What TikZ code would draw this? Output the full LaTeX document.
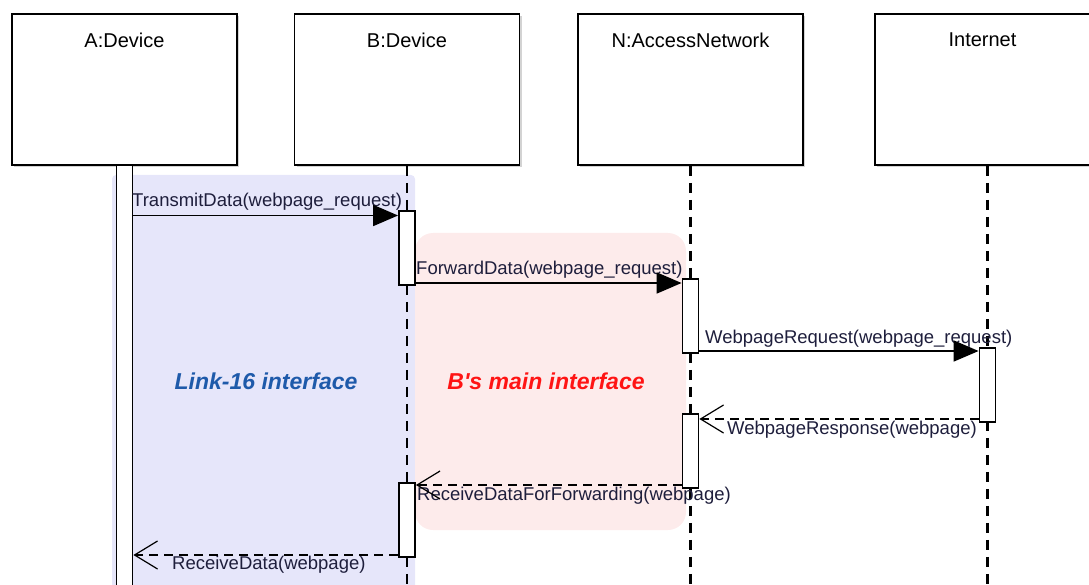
\documentclass[tikz,border=0pt]{standalone}
\usepackage{fontspec}
\setmainfont{Liberation Sans}
\newfontfamily\regfont[Ligatures=TeXOff]{Liberation Sans}
\usetikzlibrary{arrows.meta,calc,shadows}
\definecolor{lav}{RGB}{230,230,250}
\definecolor{pinkbg}{RGB}{253,235,235}
\definecolor{linkblue}{RGB}{30,90,170}
\definecolor{bred}{RGB}{255,20,20}
\definecolor{msgtxt}{RGB}{30,30,60}
\begin{document}
\begin{tikzpicture}[x=1pt,y=-1pt,
  lifebox/.style={draw, line width=1.8pt, fill=white, minimum width=225pt, minimum height=151pt, inner sep=0pt,
    drop shadow={shadow xshift=2pt, shadow yshift=-2pt, opacity=0.35, fill=gray}},
  title/.style={font=\fontsize{20}{22}\selectfont, text=black, inner sep=0pt},
  bar/.style={draw, line width=1.8pt, fill=white, minimum width=16pt, inner sep=0pt},
  life/.style={line width=2.2pt, dash pattern=on 10pt off 7pt},
  call/.style={line width=1.6pt, -{Triangle[length=25pt,width=21pt]}},
  reply/.style={line width=1.6pt, dash pattern=on 9pt off 6pt, -{Straight Barb[length=23pt,width=28pt,line width=1.2pt]}},
  lbl/.style={font=\fontsize{18.5}{20}\selectfont, text=msgtxt, inner sep=0pt, anchor=west},
  region/.style={font=\regfont\bfseries\itshape\fontsize{23}{26}\selectfont, inner sep=0pt}
]
\useasboundingbox (0,0) rectangle (1089,585);
\clip (0,0) rectangle (1089,585);

% background regions
\fill[lav, rounded corners=4pt] (112,175) rectangle (415,600);
\fill[pinkbg, rounded corners=18pt] (415,233) rectangle (686,530);

% lifeline heads
\node[lifebox] (A) at (124.5,89.5) {};
\node[lifebox] (B) at (407,89.5) {};
\node[lifebox] (N) at (690.5,89.5) {};
\node[lifebox] (I) at (987.5,89.5) {};
\node[title] (At) at (124.5,40) {A:Device};
\node[title] (Bt) at (407,40) {B:Device};
\node[title] (Nt) at (690.5,40) {N:AccessNetwork};
\node[title] (It) at (982.5,40) {Internet};

% lifelines
\coordinate (Bend) at (407,590);
\coordinate (Nend) at (690.5,590);
\coordinate (Iend) at (987.5,590);
\draw[life] (B.south) -- (Bend);
\draw[life] (N.south) -- (Nend);
\draw[life] (I.south) -- (Iend);

% region texts
\node[region, text=linkblue] (link) at (266,381) {Link-16 interface};
\node[region, text=bred] (bmain) at (546,381) {B's main interface};

% activation bars
\node[bar, minimum height=425pt] (aBar) at (124.5,377.5) {};
\node[bar, minimum height=74pt] (b1) at (407,248) {};
\node[bar, minimum height=74pt] (n1) at (690.5,316) {};
\node[bar, minimum height=74pt] (i1) at (987.5,385) {};
\node[bar, minimum height=74pt] (n2) at (690.5,451) {};
\node[bar, minimum height=74pt] (b2) at (407,520) {};

% message levels
\coordinate (y1) at (0,215.5);
\coordinate (y2) at (0,283);
\coordinate (y3) at (0,351);
\coordinate (y4) at (0,419);
\coordinate (y5) at (0,485);
\coordinate (y6) at (0,555);

% labels
\node[lbl] (l1) at (132,202) {TransmitData(webpage\_request)};
\node[lbl] (l2) at (416,270) {ForwardData(webpage\_request)};
\node[lbl] (l3) at (705,339) {WebpageRequest(webpage\_request)};
\node[lbl] (l4) at (727,430) {WebpageResponse(webpage)};
\node[lbl] (l5) at (417,496) {ReceiveDataForForwarding(webpage)};
\node[lbl] (l6) at (172,565) {ReceiveData(webpage)};

% messages
\draw[call] (aBar.east |- y1) -- (b1.west |- y1);
\draw[call] (b1.east |- y2) -- (n1.west |- y2);
\draw[call] (n1.east |- y3) -- (i1.west |- y3);
\draw[reply] (i1.west |- y4) -- (n2.east |- y4);
\draw[reply] (n2.west |- y5) -- (b2.east |- y5);
\draw[reply] (b2.west |- y6) -- (aBar.east |- y6);
\end{tikzpicture}
\end{document}
